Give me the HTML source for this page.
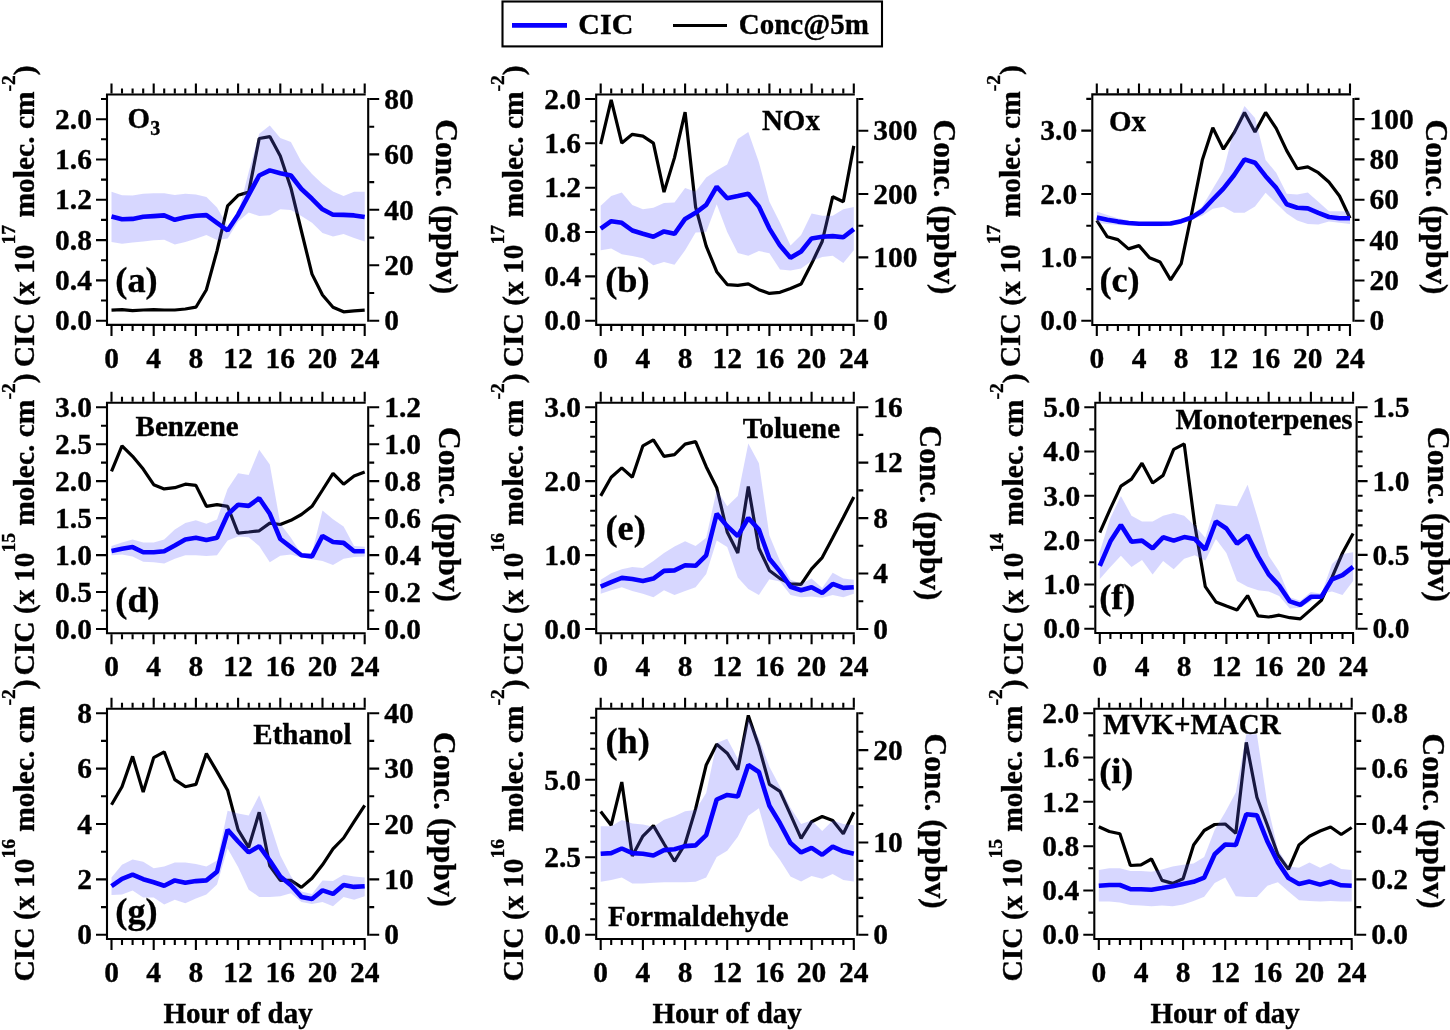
<!DOCTYPE html>
<html><head><meta charset="utf-8"><style>
html,body{margin:0;padding:0;background:#fff;width:1450px;height:1030px;overflow:hidden}
svg{display:block;will-change:transform}
text{font-family:'Liberation Serif', serif;font-weight:bold;fill:#000;stroke:#000;stroke-width:0.35px}
</style></head><body>
<svg width="1450" height="1030" viewBox="0 0 1450 1030">
<rect width="1450" height="1030" fill="#fff"/>
<polyline points="111.5,310.2 122.0,309.7 132.6,310.7 143.2,310.0 153.7,309.7 164.2,310.0 174.8,310.0 185.3,309.0 195.9,307.2 206.4,289.7 217.0,250.8 227.6,205.8 238.1,195.3 248.7,192.1 259.2,138.5 269.8,136.6 280.3,155.9 290.9,187.9 301.4,231.0 312.0,274.1 322.5,295.0 333.0,307.2 343.6,311.8 354.1,310.9 364.7,310.2" fill="none" stroke="#000" stroke-width="3.2" stroke-linejoin="bevel"/>
<polygon points="111.5,191.8 122.0,195.3 132.6,195.6 143.2,193.7 153.7,193.2 164.2,193.2 174.8,194.9 185.3,193.7 195.9,194.4 206.4,197.0 217.0,207.6 227.6,226.0 238.1,214.0 248.7,172.0 259.2,133.8 269.8,125.6 280.3,137.9 290.9,142.0 301.4,161.7 312.0,173.9 322.5,184.1 333.0,191.6 343.6,196.0 354.1,191.8 364.7,191.8 364.7,241.5 354.1,238.0 343.6,234.0 333.0,236.4 322.5,233.0 312.0,222.8 301.4,216.0 290.9,209.9 280.3,209.2 269.8,215.3 259.2,216.0 248.7,212.6 238.1,221.4 227.6,238.6 217.0,240.0 206.4,235.0 195.9,238.7 185.3,241.9 174.8,244.5 164.2,239.8 153.7,240.3 143.2,241.5 132.6,242.6 122.0,243.8 111.5,241.9" fill="#5f5fff" fill-opacity="0.25"/>
<polyline points="111.5,216.5 122.0,219.3 132.6,218.9 143.2,216.8 153.7,216.1 164.2,215.4 174.8,219.8 185.3,217.2 195.9,215.8 206.4,215.1 217.0,222.8 227.6,230.5 238.1,214.7 248.7,194.9 259.2,175.5 269.8,170.4 280.3,173.2 290.9,175.5 301.4,189.0 312.0,198.8 322.5,209.3 333.0,214.7 343.6,214.9 354.1,215.4 364.7,217.0" fill="none" stroke="#0800ff" stroke-width="4.6" stroke-linejoin="bevel"/>
<path d="M107.0 93.5 V325.9 M106.0 94.5 H365.7 M106.0 324.9 H365.7 M368.2 98.0 V321.7" stroke="#000" stroke-width="2.1" fill="none"/>
<text x="91.9" y="330.3" text-anchor="end" font-size="29.5">0.0</text>
<text x="91.9" y="290.0" text-anchor="end" font-size="29.5">0.4</text>
<text x="91.9" y="249.7" text-anchor="end" font-size="29.5">0.8</text>
<text x="91.9" y="209.4" text-anchor="end" font-size="29.5">1.2</text>
<text x="91.9" y="169.1" text-anchor="end" font-size="29.5">1.6</text>
<text x="91.9" y="128.8" text-anchor="end" font-size="29.5">2.0</text>
<text x="384.2" y="330.3" font-size="29.5">0</text>
<text x="384.2" y="274.9" font-size="29.5">20</text>
<text x="384.2" y="219.5" font-size="29.5">40</text>
<text x="384.2" y="164.1" font-size="29.5">60</text>
<text x="384.2" y="108.6" font-size="29.5">80</text>
<path d="M111.5 93.5V83.5M111.5 325.9V335.9M122.0 93.5V88.5M122.0 325.9V330.9M132.6 93.5V88.5M132.6 325.9V330.9M143.2 93.5V88.5M143.2 325.9V330.9M153.7 93.5V83.5M153.7 325.9V335.9M164.2 93.5V88.5M164.2 325.9V330.9M174.8 93.5V88.5M174.8 325.9V330.9M185.3 93.5V88.5M185.3 325.9V330.9M195.9 93.5V83.5M195.9 325.9V335.9M206.4 93.5V88.5M206.4 325.9V330.9M217.0 93.5V88.5M217.0 325.9V330.9M227.6 93.5V88.5M227.6 325.9V330.9M238.1 93.5V83.5M238.1 325.9V335.9M248.7 93.5V88.5M248.7 325.9V330.9M259.2 93.5V88.5M259.2 325.9V330.9M269.8 93.5V88.5M269.8 325.9V330.9M280.3 93.5V83.5M280.3 325.9V335.9M290.9 93.5V88.5M290.9 325.9V330.9M301.4 93.5V88.5M301.4 325.9V330.9M312.0 93.5V88.5M312.0 325.9V330.9M322.5 93.5V83.5M322.5 325.9V335.9M333.0 93.5V88.5M333.0 325.9V330.9M343.6 93.5V88.5M343.6 325.9V330.9M354.1 93.5V88.5M354.1 325.9V330.9M364.7 93.5V83.5M364.7 325.9V335.9M106.0 320.7H96.0M106.0 300.5H101.0M106.0 280.4H96.0M106.0 260.2H101.0M106.0 240.1H96.0M106.0 219.9H101.0M106.0 199.8H96.0M106.0 179.6H101.0M106.0 159.5H96.0M106.0 139.3H101.0M106.0 119.2H96.0M106.0 99.0H101.0M369.2 320.7H379.2M369.2 293.0H374.2M369.2 265.3H379.2M369.2 237.6H374.2M369.2 209.8H379.2M369.2 182.1H374.2M369.2 154.4H379.2M369.2 126.7H374.2M369.2 99.0H379.2" stroke="#000" stroke-width="2.1" fill="none"/>
<text x="111.5" y="367.7" text-anchor="middle" font-size="29.5">0</text>
<text x="153.7" y="367.7" text-anchor="middle" font-size="29.5">4</text>
<text x="195.9" y="367.7" text-anchor="middle" font-size="29.5">8</text>
<text x="238.1" y="367.7" text-anchor="middle" font-size="29.5">12</text>
<text x="280.3" y="367.7" text-anchor="middle" font-size="29.5">16</text>
<text x="322.5" y="367.7" text-anchor="middle" font-size="29.5">20</text>
<text x="364.7" y="367.7" text-anchor="middle" font-size="29.5">24</text>
<text transform="translate(34.2 367.3) rotate(-90)" font-size="29.5">CIC (x 10<tspan font-size="19.5" dy="-19.4">17</tspan><tspan dy="19.4"> molec. cm</tspan><tspan font-size="19.5" dy="-19.4">-2</tspan><tspan dy="19.4">)</tspan></text>
<text transform="translate(436.0 119.3) rotate(90)" font-size="31.5">Conc. (ppbv)</text>
<text x="115.3" y="292.1" font-size="36.3">(a)</text>
<text x="127.6" y="127.5" font-size="29.0">O<tspan font-size="20" dy="7">3</tspan></text>
<polyline points="600.7,144.1 611.2,99.8 621.8,143.1 632.3,134.3 642.9,136.1 653.4,143.1 664.0,192.1 674.5,157.6 685.1,112.1 695.6,207.0 706.2,246.1 716.7,271.7 727.2,284.6 737.8,285.3 748.3,283.9 758.9,289.7 769.4,293.4 780.0,292.3 790.5,288.5 801.1,284.1 811.6,263.6 822.2,241.5 832.7,196.7 843.3,201.8 853.8,145.9" fill="none" stroke="#000" stroke-width="3.2" stroke-linejoin="bevel"/>
<polygon points="600.7,205.8 611.2,196.0 621.8,192.5 632.3,204.9 642.9,209.3 653.4,207.7 664.0,203.0 674.5,202.5 685.1,187.9 695.6,191.8 706.2,177.4 716.7,170.4 727.2,164.6 737.8,138.9 748.3,131.9 758.9,162.2 769.4,201.8 780.0,222.8 790.5,245.6 801.1,234.9 811.6,213.5 822.2,215.8 832.7,215.8 843.3,209.3 853.8,207.0 853.8,250.3 843.3,263.1 832.7,255.7 822.2,257.1 811.6,261.0 801.1,268.5 790.5,270.6 780.0,269.4 769.4,253.3 758.9,251.0 748.3,255.7 737.8,253.1 727.2,232.1 716.7,204.2 706.2,232.1 695.6,232.6 685.1,250.3 674.5,264.8 664.0,262.0 653.4,265.2 642.9,258.2 632.3,255.9 621.8,254.3 611.2,248.4 600.7,250.3" fill="#5f5fff" fill-opacity="0.25"/>
<polyline points="600.7,228.6 611.2,221.2 621.8,222.8 632.3,230.5 642.9,233.8 653.4,236.8 664.0,231.4 674.5,233.8 685.1,218.9 695.6,212.8 706.2,204.9 716.7,186.7 727.2,198.3 737.8,196.0 748.3,193.7 758.9,206.5 769.4,228.6 780.0,245.6 790.5,257.8 801.1,251.5 811.6,238.4 822.2,236.8 832.7,236.1 843.3,237.3 853.8,229.1" fill="none" stroke="#0800ff" stroke-width="4.6" stroke-linejoin="bevel"/>
<path d="M596.2 93.5 V325.9 M595.2 94.5 H854.8 M595.2 324.9 H854.8 M857.3 98.0 V321.7" stroke="#000" stroke-width="2.1" fill="none"/>
<text x="581.1" y="330.3" text-anchor="end" font-size="29.5">0.0</text>
<text x="581.1" y="286.0" text-anchor="end" font-size="29.5">0.4</text>
<text x="581.1" y="241.7" text-anchor="end" font-size="29.5">0.8</text>
<text x="581.1" y="197.3" text-anchor="end" font-size="29.5">1.2</text>
<text x="581.1" y="153.0" text-anchor="end" font-size="29.5">1.6</text>
<text x="581.1" y="108.6" text-anchor="end" font-size="29.5">2.0</text>
<text x="873.3" y="330.3" font-size="29.5">0</text>
<text x="873.3" y="267.0" font-size="29.5">100</text>
<text x="873.3" y="203.7" font-size="29.5">200</text>
<text x="873.3" y="140.3" font-size="29.5">300</text>
<path d="M600.7 93.5V83.5M600.7 325.9V335.9M611.2 93.5V88.5M611.2 325.9V330.9M621.8 93.5V88.5M621.8 325.9V330.9M632.3 93.5V88.5M632.3 325.9V330.9M642.9 93.5V83.5M642.9 325.9V335.9M653.4 93.5V88.5M653.4 325.9V330.9M664.0 93.5V88.5M664.0 325.9V330.9M674.5 93.5V88.5M674.5 325.9V330.9M685.1 93.5V83.5M685.1 325.9V335.9M695.6 93.5V88.5M695.6 325.9V330.9M706.2 93.5V88.5M706.2 325.9V330.9M716.7 93.5V88.5M716.7 325.9V330.9M727.2 93.5V83.5M727.2 325.9V335.9M737.8 93.5V88.5M737.8 325.9V330.9M748.3 93.5V88.5M748.3 325.9V330.9M758.9 93.5V88.5M758.9 325.9V330.9M769.4 93.5V83.5M769.4 325.9V335.9M780.0 93.5V88.5M780.0 325.9V330.9M790.5 93.5V88.5M790.5 325.9V330.9M801.1 93.5V88.5M801.1 325.9V330.9M811.6 93.5V83.5M811.6 325.9V335.9M822.2 93.5V88.5M822.2 325.9V330.9M832.7 93.5V88.5M832.7 325.9V330.9M843.3 93.5V88.5M843.3 325.9V330.9M853.8 93.5V83.5M853.8 325.9V335.9M595.2 320.7H585.2M595.2 298.5H590.2M595.2 276.4H585.2M595.2 254.2H590.2M595.2 232.0H585.2M595.2 209.8H590.2M595.2 187.7H585.2M595.2 165.5H590.2M595.2 143.3H585.2M595.2 121.2H590.2M595.2 99.0H585.2M858.3 320.7H868.3M858.3 289.0H863.3M858.3 257.4H868.3M858.3 225.7H863.3M858.3 194.0H868.3M858.3 162.3H863.3M858.3 130.7H868.3M858.3 99.0H863.3" stroke="#000" stroke-width="2.1" fill="none"/>
<text x="600.7" y="367.7" text-anchor="middle" font-size="29.5">0</text>
<text x="642.9" y="367.7" text-anchor="middle" font-size="29.5">4</text>
<text x="685.1" y="367.7" text-anchor="middle" font-size="29.5">8</text>
<text x="727.2" y="367.7" text-anchor="middle" font-size="29.5">12</text>
<text x="769.4" y="367.7" text-anchor="middle" font-size="29.5">16</text>
<text x="811.6" y="367.7" text-anchor="middle" font-size="29.5">20</text>
<text x="853.8" y="367.7" text-anchor="middle" font-size="29.5">24</text>
<text transform="translate(523.4 367.3) rotate(-90)" font-size="29.5">CIC (x 10<tspan font-size="19.5" dy="-19.4">17</tspan><tspan dy="19.4"> molec. cm</tspan><tspan font-size="19.5" dy="-19.4">-2</tspan><tspan dy="19.4">)</tspan></text>
<text transform="translate(934.2 119.5) rotate(90)" font-size="31.5">Conc. (ppbv)</text>
<text x="605.2" y="292.4" font-size="36.3">(b)</text>
<text x="761.9" y="130.2" font-size="29.0">NOx</text>
<polyline points="1096.8,220.5 1107.3,236.8 1117.9,239.6 1128.5,248.9 1139.0,245.6 1149.5,257.8 1160.1,262.0 1170.6,279.9 1181.2,263.6 1191.8,212.8 1202.3,160.1 1212.8,127.7 1223.4,149.2 1234.0,132.9 1244.5,112.4 1255.0,131.9 1265.6,112.4 1276.2,128.4 1286.7,150.6 1297.2,168.8 1307.8,166.9 1318.3,172.7 1328.9,182.0 1339.5,196.0 1350.0,218.2" fill="none" stroke="#000" stroke-width="3.2" stroke-linejoin="bevel"/>
<polygon points="1096.8,211.6 1107.3,215.1 1117.9,218.2 1128.5,220.5 1139.0,222.1 1149.5,222.1 1160.1,222.1 1170.6,221.6 1181.2,219.3 1191.8,215.1 1202.3,206.5 1212.8,188.8 1223.4,170.9 1234.0,129.6 1244.5,106.1 1255.0,118.0 1265.6,159.9 1276.2,172.7 1286.7,193.7 1297.2,194.4 1307.8,192.5 1318.3,201.8 1328.9,211.2 1339.5,211.2 1350.0,211.6 1350.0,224.0 1339.5,222.8 1328.9,221.6 1318.3,224.4 1307.8,224.0 1297.2,220.5 1286.7,213.5 1276.2,203.2 1265.6,192.8 1255.0,206.5 1244.5,212.8 1234.0,212.8 1223.4,206.7 1212.8,208.8 1202.3,215.8 1191.8,219.3 1181.2,224.0 1170.6,225.8 1160.1,226.3 1149.5,226.3 1139.0,225.8 1128.5,225.6 1117.9,225.1 1107.3,224.0 1096.8,222.8" fill="#5f5fff" fill-opacity="0.25"/>
<polyline points="1096.8,217.5 1107.3,219.8 1117.9,221.6 1128.5,223.0 1139.0,223.7 1149.5,223.7 1160.1,223.7 1170.6,223.5 1181.2,221.2 1191.8,217.5 1202.3,210.7 1212.8,199.5 1223.4,188.6 1234.0,175.3 1244.5,159.4 1255.0,162.7 1265.6,176.2 1276.2,187.9 1286.7,204.2 1297.2,207.7 1307.8,208.4 1318.3,212.8 1328.9,217.0 1339.5,218.2 1350.0,218.2" fill="none" stroke="#0800ff" stroke-width="4.6" stroke-linejoin="bevel"/>
<path d="M1092.3 93.4 V326.0 M1091.3 94.4 H1351.0 M1091.3 325.0 H1351.0 M1353.5 97.9 V321.8" stroke="#000" stroke-width="2.1" fill="none"/>
<text x="1077.2" y="330.4" text-anchor="end" font-size="29.5">0.0</text>
<text x="1077.2" y="267.0" text-anchor="end" font-size="29.5">1.0</text>
<text x="1077.2" y="203.6" text-anchor="end" font-size="29.5">2.0</text>
<text x="1077.2" y="140.2" text-anchor="end" font-size="29.5">3.0</text>
<text x="1369.5" y="330.4" font-size="29.5">0</text>
<text x="1369.5" y="290.1" font-size="29.5">20</text>
<text x="1369.5" y="249.7" font-size="29.5">40</text>
<text x="1369.5" y="209.4" font-size="29.5">60</text>
<text x="1369.5" y="169.1" font-size="29.5">80</text>
<text x="1369.5" y="128.7" font-size="29.5">100</text>
<path d="M1096.8 93.4V83.4M1096.8 326.0V336.0M1107.3 93.4V88.4M1107.3 326.0V331.0M1117.9 93.4V88.4M1117.9 326.0V331.0M1128.5 93.4V88.4M1128.5 326.0V331.0M1139.0 93.4V83.4M1139.0 326.0V336.0M1149.5 93.4V88.4M1149.5 326.0V331.0M1160.1 93.4V88.4M1160.1 326.0V331.0M1170.6 93.4V88.4M1170.6 326.0V331.0M1181.2 93.4V83.4M1181.2 326.0V336.0M1191.8 93.4V88.4M1191.8 326.0V331.0M1202.3 93.4V88.4M1202.3 326.0V331.0M1212.8 93.4V88.4M1212.8 326.0V331.0M1223.4 93.4V83.4M1223.4 326.0V336.0M1234.0 93.4V88.4M1234.0 326.0V331.0M1244.5 93.4V88.4M1244.5 326.0V331.0M1255.0 93.4V88.4M1255.0 326.0V331.0M1265.6 93.4V83.4M1265.6 326.0V336.0M1276.2 93.4V88.4M1276.2 326.0V331.0M1286.7 93.4V88.4M1286.7 326.0V331.0M1297.2 93.4V88.4M1297.2 326.0V331.0M1307.8 93.4V83.4M1307.8 326.0V336.0M1318.3 93.4V88.4M1318.3 326.0V331.0M1328.9 93.4V88.4M1328.9 326.0V331.0M1339.5 93.4V88.4M1339.5 326.0V331.0M1350.0 93.4V83.4M1350.0 326.0V336.0M1091.3 320.8H1081.3M1091.3 289.1H1086.3M1091.3 257.4H1081.3M1091.3 225.7H1086.3M1091.3 194.0H1081.3M1091.3 162.3H1086.3M1091.3 130.6H1081.3M1091.3 98.9H1086.3M1354.5 320.8H1364.5M1354.5 300.6H1359.5M1354.5 280.5H1364.5M1354.5 260.3H1359.5M1354.5 240.1H1364.5M1354.5 219.9H1359.5M1354.5 199.8H1364.5M1354.5 179.6H1359.5M1354.5 159.4H1364.5M1354.5 139.2H1359.5M1354.5 119.1H1364.5M1354.5 98.9H1359.5" stroke="#000" stroke-width="2.1" fill="none"/>
<text x="1096.8" y="367.8" text-anchor="middle" font-size="29.5">0</text>
<text x="1139.0" y="367.8" text-anchor="middle" font-size="29.5">4</text>
<text x="1181.2" y="367.8" text-anchor="middle" font-size="29.5">8</text>
<text x="1223.4" y="367.8" text-anchor="middle" font-size="29.5">12</text>
<text x="1265.6" y="367.8" text-anchor="middle" font-size="29.5">16</text>
<text x="1307.8" y="367.8" text-anchor="middle" font-size="29.5">20</text>
<text x="1350.0" y="367.8" text-anchor="middle" font-size="29.5">24</text>
<text transform="translate(1019.5 367.2) rotate(-90)" font-size="29.5">CIC (x 10<tspan font-size="19.5" dy="-19.4">17</tspan><tspan dy="19.4"> molec. cm</tspan><tspan font-size="19.5" dy="-19.4">-2</tspan><tspan dy="19.4">)</tspan></text>
<text transform="translate(1425.6 119.5) rotate(90)" font-size="31.5">Conc. (ppbv)</text>
<text x="1099.4" y="292.0" font-size="36.3">(c)</text>
<text x="1109.0" y="131.4" font-size="29.0">Ox</text>
<polyline points="111.5,471.4 122.0,445.8 132.6,456.3 143.2,469.1 153.7,484.7 164.2,488.9 174.8,487.7 185.3,484.2 195.9,485.4 206.4,506.3 217.0,504.7 227.6,506.3 238.1,533.1 248.7,532.0 259.2,530.8 269.8,523.1 280.3,524.5 290.9,520.3 301.4,514.5 312.0,506.3 322.5,490.0 333.0,473.3 343.6,484.2 354.1,476.1 364.7,472.1" fill="none" stroke="#000" stroke-width="3.2" stroke-linejoin="bevel"/>
<polygon points="111.5,546.0 122.0,542.5 132.6,539.4 143.2,542.5 153.7,542.5 164.2,539.4 174.8,529.6 185.3,523.1 195.9,520.3 206.4,523.8 217.0,519.6 227.6,488.9 238.1,473.3 248.7,474.9 259.2,449.7 269.8,464.4 280.3,523.8 290.9,537.8 301.4,554.1 312.0,553.0 322.5,510.5 333.0,519.2 343.6,526.6 354.1,546.0 364.7,546.7 364.7,556.4 354.1,557.1 343.6,558.8 333.0,565.1 322.5,561.1 312.0,559.2 301.4,557.6 290.9,554.6 280.3,555.7 269.8,562.3 259.2,546.0 248.7,537.3 238.1,536.6 227.6,540.6 217.0,555.3 206.4,556.0 195.9,555.3 185.3,555.3 174.8,558.8 164.2,563.4 153.7,562.3 143.2,561.8 132.6,556.4 122.0,554.6 111.5,555.3" fill="#5f5fff" fill-opacity="0.25"/>
<polyline points="111.5,551.1 122.0,548.8 132.6,547.1 143.2,552.3 153.7,552.3 164.2,551.3 174.8,545.5 185.3,539.4 195.9,537.8 206.4,540.1 217.0,537.8 227.6,514.5 238.1,504.7 248.7,505.9 259.2,498.2 269.8,513.8 280.3,539.0 290.9,547.1 301.4,555.3 312.0,556.4 322.5,535.9 333.0,542.0 343.6,542.9 354.1,551.3 364.7,551.3" fill="none" stroke="#0800ff" stroke-width="4.6" stroke-linejoin="bevel"/>
<path d="M107.0 401.7 V634.2 M106.0 402.7 H365.7 M106.0 633.2 H365.7 M368.2 406.2 V630.0" stroke="#000" stroke-width="2.1" fill="none"/>
<text x="91.9" y="638.6" text-anchor="end" font-size="29.5">0.0</text>
<text x="91.9" y="601.7" text-anchor="end" font-size="29.5">0.5</text>
<text x="91.9" y="564.7" text-anchor="end" font-size="29.5">1.0</text>
<text x="91.9" y="527.7" text-anchor="end" font-size="29.5">1.5</text>
<text x="91.9" y="490.8" text-anchor="end" font-size="29.5">2.0</text>
<text x="91.9" y="453.8" text-anchor="end" font-size="29.5">2.5</text>
<text x="91.9" y="416.8" text-anchor="end" font-size="29.5">3.0</text>
<text x="384.2" y="638.6" font-size="29.5">0.0</text>
<text x="384.2" y="601.7" font-size="29.5">0.2</text>
<text x="384.2" y="564.7" font-size="29.5">0.4</text>
<text x="384.2" y="527.7" font-size="29.5">0.6</text>
<text x="384.2" y="490.8" font-size="29.5">0.8</text>
<text x="384.2" y="453.8" font-size="29.5">1.0</text>
<text x="384.2" y="416.8" font-size="29.5">1.2</text>
<path d="M111.5 401.7V391.7M111.5 634.2V644.2M122.0 401.7V396.7M122.0 634.2V639.2M132.6 401.7V396.7M132.6 634.2V639.2M143.2 401.7V396.7M143.2 634.2V639.2M153.7 401.7V391.7M153.7 634.2V644.2M164.2 401.7V396.7M164.2 634.2V639.2M174.8 401.7V396.7M174.8 634.2V639.2M185.3 401.7V396.7M185.3 634.2V639.2M195.9 401.7V391.7M195.9 634.2V644.2M206.4 401.7V396.7M206.4 634.2V639.2M217.0 401.7V396.7M217.0 634.2V639.2M227.6 401.7V396.7M227.6 634.2V639.2M238.1 401.7V391.7M238.1 634.2V644.2M248.7 401.7V396.7M248.7 634.2V639.2M259.2 401.7V396.7M259.2 634.2V639.2M269.8 401.7V396.7M269.8 634.2V639.2M280.3 401.7V391.7M280.3 634.2V644.2M290.9 401.7V396.7M290.9 634.2V639.2M301.4 401.7V396.7M301.4 634.2V639.2M312.0 401.7V396.7M312.0 634.2V639.2M322.5 401.7V391.7M322.5 634.2V644.2M333.0 401.7V396.7M333.0 634.2V639.2M343.6 401.7V396.7M343.6 634.2V639.2M354.1 401.7V396.7M354.1 634.2V639.2M364.7 401.7V391.7M364.7 634.2V644.2M106.0 629.0H96.0M106.0 610.5H101.0M106.0 592.0H96.0M106.0 573.5H101.0M106.0 555.1H96.0M106.0 536.6H101.0M106.0 518.1H96.0M106.0 499.6H101.0M106.0 481.1H96.0M106.0 462.6H101.0M106.0 444.2H96.0M106.0 425.7H101.0M106.0 407.2H96.0M369.2 629.0H379.2M369.2 610.5H374.2M369.2 592.0H379.2M369.2 573.5H374.2M369.2 555.1H379.2M369.2 536.6H374.2M369.2 518.1H379.2M369.2 499.6H374.2M369.2 481.1H379.2M369.2 462.6H374.2M369.2 444.2H379.2M369.2 425.7H374.2M369.2 407.2H379.2" stroke="#000" stroke-width="2.1" fill="none"/>
<text x="111.5" y="676.0" text-anchor="middle" font-size="29.5">0</text>
<text x="153.7" y="676.0" text-anchor="middle" font-size="29.5">4</text>
<text x="195.9" y="676.0" text-anchor="middle" font-size="29.5">8</text>
<text x="238.1" y="676.0" text-anchor="middle" font-size="29.5">12</text>
<text x="280.3" y="676.0" text-anchor="middle" font-size="29.5">16</text>
<text x="322.5" y="676.0" text-anchor="middle" font-size="29.5">20</text>
<text x="364.7" y="676.0" text-anchor="middle" font-size="29.5">24</text>
<text transform="translate(34.2 675.5) rotate(-90)" font-size="29.5">CIC (x 10<tspan font-size="19.5" dy="-19.4">15</tspan><tspan dy="19.4"> molec. cm</tspan><tspan font-size="19.5" dy="-19.4">-2</tspan><tspan dy="19.4">)</tspan></text>
<text transform="translate(438.6 426.9) rotate(90)" font-size="31.5">Conc. (ppbv)</text>
<text x="115.3" y="611.6" font-size="36.3">(d)</text>
<text x="135.6" y="436.3" font-size="29.0">Benzene</text>
<polyline points="600.7,495.9 611.2,477.2 621.8,467.9 632.3,477.2 642.9,445.8 653.4,439.9 664.0,456.3 674.5,454.6 685.1,444.1 695.6,441.6 706.2,466.7 716.7,487.7 727.2,532.0 737.8,553.0 748.3,486.5 758.9,548.3 769.4,570.4 780.0,578.6 790.5,583.9 801.1,584.4 811.6,568.8 822.2,557.6 832.7,537.8 843.3,517.5 853.8,497.0" fill="none" stroke="#000" stroke-width="3.2" stroke-linejoin="bevel"/>
<polygon points="600.7,579.7 611.2,573.2 621.8,569.3 632.3,566.9 642.9,568.1 653.4,561.1 664.0,553.0 674.5,546.4 685.1,541.3 695.6,546.0 706.2,537.8 716.7,490.0 727.2,506.3 737.8,495.9 748.3,443.4 758.9,463.2 769.4,535.5 780.0,561.1 790.5,579.7 801.1,583.7 811.6,578.6 822.2,587.9 832.7,572.8 843.3,578.6 853.8,579.7 853.8,593.7 843.3,597.2 832.7,594.9 822.2,597.7 811.6,596.5 801.1,597.2 790.5,594.9 780.0,581.6 769.4,579.3 758.9,594.9 748.3,589.1 737.8,577.4 727.2,547.1 716.7,540.6 706.2,573.9 695.6,587.2 685.1,590.9 674.5,594.9 664.0,590.2 653.4,597.2 642.9,593.7 632.3,590.9 621.8,587.2 611.2,590.2 600.7,593.7" fill="#5f5fff" fill-opacity="0.25"/>
<polyline points="600.7,586.7 611.2,582.1 621.8,577.9 632.3,579.0 642.9,580.9 653.4,578.6 664.0,570.9 674.5,570.4 685.1,565.3 695.6,565.8 706.2,555.3 716.7,513.8 727.2,526.2 737.8,536.2 748.3,518.0 758.9,529.6 769.4,558.8 780.0,571.6 790.5,586.7 801.1,590.2 811.6,587.2 822.2,593.0 832.7,583.9 843.3,587.9 853.8,587.2" fill="none" stroke="#0800ff" stroke-width="4.6" stroke-linejoin="bevel"/>
<path d="M596.2 401.7 V634.2 M595.2 402.7 H854.8 M595.2 633.2 H854.8 M857.3 406.2 V630.0" stroke="#000" stroke-width="2.1" fill="none"/>
<text x="581.1" y="638.6" text-anchor="end" font-size="29.5">0.0</text>
<text x="581.1" y="564.7" text-anchor="end" font-size="29.5">1.0</text>
<text x="581.1" y="490.8" text-anchor="end" font-size="29.5">2.0</text>
<text x="581.1" y="416.8" text-anchor="end" font-size="29.5">3.0</text>
<text x="873.3" y="638.6" font-size="29.5">0</text>
<text x="873.3" y="583.2" font-size="29.5">4</text>
<text x="873.3" y="527.7" font-size="29.5">8</text>
<text x="873.3" y="472.3" font-size="29.5">12</text>
<text x="873.3" y="416.8" font-size="29.5">16</text>
<path d="M600.7 401.7V391.7M600.7 634.2V644.2M611.2 401.7V396.7M611.2 634.2V639.2M621.8 401.7V396.7M621.8 634.2V639.2M632.3 401.7V396.7M632.3 634.2V639.2M642.9 401.7V391.7M642.9 634.2V644.2M653.4 401.7V396.7M653.4 634.2V639.2M664.0 401.7V396.7M664.0 634.2V639.2M674.5 401.7V396.7M674.5 634.2V639.2M685.1 401.7V391.7M685.1 634.2V644.2M695.6 401.7V396.7M695.6 634.2V639.2M706.2 401.7V396.7M706.2 634.2V639.2M716.7 401.7V396.7M716.7 634.2V639.2M727.2 401.7V391.7M727.2 634.2V644.2M737.8 401.7V396.7M737.8 634.2V639.2M748.3 401.7V396.7M748.3 634.2V639.2M758.9 401.7V396.7M758.9 634.2V639.2M769.4 401.7V391.7M769.4 634.2V644.2M780.0 401.7V396.7M780.0 634.2V639.2M790.5 401.7V396.7M790.5 634.2V639.2M801.1 401.7V396.7M801.1 634.2V639.2M811.6 401.7V391.7M811.6 634.2V644.2M822.2 401.7V396.7M822.2 634.2V639.2M832.7 401.7V396.7M832.7 634.2V639.2M843.3 401.7V396.7M843.3 634.2V639.2M853.8 401.7V391.7M853.8 634.2V644.2M595.2 629.0H585.2M595.2 614.2H590.2M595.2 599.4H590.2M595.2 584.6H590.2M595.2 569.9H590.2M595.2 555.1H585.2M595.2 540.3H590.2M595.2 525.5H590.2M595.2 510.7H590.2M595.2 495.9H590.2M595.2 481.1H585.2M595.2 466.3H590.2M595.2 451.6H590.2M595.2 436.8H590.2M595.2 422.0H590.2M595.2 407.2H585.2M858.3 629.0H868.3M858.3 601.3H863.3M858.3 573.5H868.3M858.3 545.8H863.3M858.3 518.1H868.3M858.3 490.4H863.3M858.3 462.6H868.3M858.3 434.9H863.3M858.3 407.2H868.3" stroke="#000" stroke-width="2.1" fill="none"/>
<text x="600.7" y="676.0" text-anchor="middle" font-size="29.5">0</text>
<text x="642.9" y="676.0" text-anchor="middle" font-size="29.5">4</text>
<text x="685.1" y="676.0" text-anchor="middle" font-size="29.5">8</text>
<text x="727.2" y="676.0" text-anchor="middle" font-size="29.5">12</text>
<text x="769.4" y="676.0" text-anchor="middle" font-size="29.5">16</text>
<text x="811.6" y="676.0" text-anchor="middle" font-size="29.5">20</text>
<text x="853.8" y="676.0" text-anchor="middle" font-size="29.5">24</text>
<text transform="translate(523.4 675.5) rotate(-90)" font-size="29.5">CIC (x 10<tspan font-size="19.5" dy="-19.4">16</tspan><tspan dy="19.4"> molec. cm</tspan><tspan font-size="19.5" dy="-19.4">-2</tspan><tspan dy="19.4">)</tspan></text>
<text transform="translate(919.6 425.4) rotate(90)" font-size="31.5">Conc. (ppbv)</text>
<text x="605.5" y="540.2" font-size="36.3">(e)</text>
<text x="742.8" y="437.5" font-size="29.0">Toluene</text>
<polyline points="1099.8,532.7 1110.4,508.7 1120.9,486.1 1131.5,479.1 1142.0,463.2 1152.6,483.0 1163.1,475.4 1173.7,449.3 1184.2,443.9 1194.8,525.0 1205.3,586.7 1215.9,601.9 1226.4,606.1 1237.0,610.0 1247.6,595.6 1258.1,615.9 1268.7,617.0 1279.2,615.2 1289.8,617.7 1300.3,618.9 1310.9,609.6 1321.4,600.3 1332.0,577.4 1342.5,553.0 1353.1,533.6" fill="none" stroke="#000" stroke-width="3.2" stroke-linejoin="bevel"/>
<polygon points="1099.8,551.8 1110.4,518.0 1120.9,495.9 1131.5,515.7 1142.0,521.5 1152.6,521.5 1163.1,515.7 1173.7,512.9 1184.2,515.7 1194.8,525.7 1205.3,537.8 1215.9,504.0 1226.4,505.2 1237.0,506.3 1247.6,484.7 1258.1,519.2 1268.7,555.7 1279.2,571.6 1289.8,597.2 1300.3,600.7 1310.9,592.1 1321.4,593.7 1332.0,563.9 1342.5,554.1 1353.1,552.3 1353.1,580.9 1342.5,594.9 1332.0,591.4 1321.4,593.7 1310.9,601.2 1300.3,607.7 1289.8,608.4 1279.2,596.1 1268.7,591.4 1258.1,590.2 1247.6,586.7 1237.0,580.9 1226.4,553.0 1215.9,539.0 1205.3,560.4 1194.8,555.3 1184.2,558.8 1173.7,569.3 1163.1,561.1 1152.6,574.4 1142.0,559.9 1131.5,566.9 1120.9,555.7 1110.4,566.9 1099.8,579.0" fill="#5f5fff" fill-opacity="0.25"/>
<polyline points="1099.8,565.8 1110.4,541.3 1120.9,525.0 1131.5,541.8 1142.0,540.6 1152.6,548.3 1163.1,537.3 1173.7,540.6 1184.2,537.1 1194.8,539.0 1205.3,549.5 1215.9,521.5 1226.4,528.5 1237.0,543.6 1247.6,535.5 1258.1,556.4 1268.7,574.4 1279.2,585.6 1289.8,601.4 1300.3,604.9 1310.9,596.8 1321.4,596.8 1332.0,579.3 1342.5,575.1 1353.1,566.9" fill="none" stroke="#0800ff" stroke-width="4.6" stroke-linejoin="bevel"/>
<path d="M1095.3 401.7 V634.0 M1094.3 402.7 H1354.1 M1094.3 633.0 H1354.1 M1356.6 406.2 V629.8" stroke="#000" stroke-width="2.1" fill="none"/>
<text x="1080.2" y="638.4" text-anchor="end" font-size="29.5">0.0</text>
<text x="1080.2" y="594.1" text-anchor="end" font-size="29.5">1.0</text>
<text x="1080.2" y="549.8" text-anchor="end" font-size="29.5">2.0</text>
<text x="1080.2" y="505.5" text-anchor="end" font-size="29.5">3.0</text>
<text x="1080.2" y="461.2" text-anchor="end" font-size="29.5">4.0</text>
<text x="1080.2" y="416.8" text-anchor="end" font-size="29.5">5.0</text>
<text x="1372.6" y="638.4" font-size="29.5">0.0</text>
<text x="1372.6" y="564.6" font-size="29.5">0.5</text>
<text x="1372.6" y="490.7" font-size="29.5">1.0</text>
<text x="1372.6" y="416.8" font-size="29.5">1.5</text>
<path d="M1099.8 401.7V391.7M1099.8 634.0V644.0M1110.4 401.7V396.7M1110.4 634.0V639.0M1120.9 401.7V396.7M1120.9 634.0V639.0M1131.5 401.7V396.7M1131.5 634.0V639.0M1142.0 401.7V391.7M1142.0 634.0V644.0M1152.6 401.7V396.7M1152.6 634.0V639.0M1163.1 401.7V396.7M1163.1 634.0V639.0M1173.7 401.7V396.7M1173.7 634.0V639.0M1184.2 401.7V391.7M1184.2 634.0V644.0M1194.8 401.7V396.7M1194.8 634.0V639.0M1205.3 401.7V396.7M1205.3 634.0V639.0M1215.9 401.7V396.7M1215.9 634.0V639.0M1226.4 401.7V391.7M1226.4 634.0V644.0M1237.0 401.7V396.7M1237.0 634.0V639.0M1247.6 401.7V396.7M1247.6 634.0V639.0M1258.1 401.7V396.7M1258.1 634.0V639.0M1268.7 401.7V391.7M1268.7 634.0V644.0M1279.2 401.7V396.7M1279.2 634.0V639.0M1289.8 401.7V396.7M1289.8 634.0V639.0M1300.3 401.7V396.7M1300.3 634.0V639.0M1310.9 401.7V391.7M1310.9 634.0V644.0M1321.4 401.7V396.7M1321.4 634.0V639.0M1332.0 401.7V396.7M1332.0 634.0V639.0M1342.5 401.7V396.7M1342.5 634.0V639.0M1353.1 401.7V391.7M1353.1 634.0V644.0M1094.3 628.8H1084.3M1094.3 606.6H1089.3M1094.3 584.5H1084.3M1094.3 562.3H1089.3M1094.3 540.2H1084.3M1094.3 518.0H1089.3M1094.3 495.8H1084.3M1094.3 473.7H1089.3M1094.3 451.5H1084.3M1094.3 429.4H1089.3M1094.3 407.2H1084.3M1357.6 628.8H1367.6M1357.6 614.0H1362.6M1357.6 599.3H1362.6M1357.6 584.5H1362.6M1357.6 569.7H1362.6M1357.6 554.9H1367.6M1357.6 540.2H1362.6M1357.6 525.4H1362.6M1357.6 510.6H1362.6M1357.6 495.8H1362.6M1357.6 481.1H1367.6M1357.6 466.3H1362.6M1357.6 451.5H1362.6M1357.6 436.7H1362.6M1357.6 422.0H1362.6M1357.6 407.2H1367.6" stroke="#000" stroke-width="2.1" fill="none"/>
<text x="1099.8" y="675.8" text-anchor="middle" font-size="29.5">0</text>
<text x="1142.0" y="675.8" text-anchor="middle" font-size="29.5">4</text>
<text x="1184.2" y="675.8" text-anchor="middle" font-size="29.5">8</text>
<text x="1226.4" y="675.8" text-anchor="middle" font-size="29.5">12</text>
<text x="1268.7" y="675.8" text-anchor="middle" font-size="29.5">16</text>
<text x="1310.9" y="675.8" text-anchor="middle" font-size="29.5">20</text>
<text x="1353.1" y="675.8" text-anchor="middle" font-size="29.5">24</text>
<text transform="translate(1022.5 675.5) rotate(-90)" font-size="29.5">CIC (x 10<tspan font-size="19.5" dy="-19.4">14</tspan><tspan dy="19.4"> molec. cm</tspan><tspan font-size="19.5" dy="-19.4">-2</tspan><tspan dy="19.4">)</tspan></text>
<text transform="translate(1428.0 426.9) rotate(90)" font-size="31.5">Conc. (ppbv)</text>
<text x="1099.2" y="609.3" font-size="36.3">(f)</text>
<text x="1175.4" y="428.9" font-size="29.0">Monoterpenes</text>
<polyline points="111.5,804.7 122.0,786.7 132.6,756.4 143.2,792.1 153.7,757.6 164.2,751.8 174.8,779.7 185.3,786.7 195.9,784.4 206.4,753.6 217.0,771.6 227.6,790.2 238.1,829.8 248.7,847.3 259.2,812.3 269.8,865.9 280.3,880.4 290.9,880.4 301.4,887.4 312.0,878.3 322.5,864.8 333.0,848.9 343.6,838.0 354.1,821.7 364.7,805.4" fill="none" stroke="#000" stroke-width="3.2" stroke-linejoin="bevel"/>
<polygon points="111.5,877.6 122.0,864.8 132.6,859.6 143.2,861.7 153.7,868.3 164.2,866.4 174.8,862.4 185.3,862.4 195.9,864.1 206.4,866.4 217.0,860.6 227.6,810.7 238.1,813.5 248.7,815.4 259.2,795.3 269.8,822.8 280.3,855.5 290.9,876.0 301.4,891.6 312.0,893.9 322.5,880.4 333.0,881.1 343.6,874.8 354.1,876.4 364.7,877.6 364.7,896.2 354.1,899.7 343.6,896.9 333.0,906.3 322.5,902.1 312.0,903.9 301.4,902.1 290.9,893.2 280.3,896.2 269.8,896.9 259.2,896.9 248.7,889.7 238.1,867.1 227.6,848.5 217.0,884.6 206.4,894.6 195.9,898.6 185.3,903.2 174.8,899.7 164.2,904.4 153.7,897.4 143.2,897.4 132.6,890.4 122.0,894.6 111.5,895.1" fill="#5f5fff" fill-opacity="0.25"/>
<polyline points="111.5,886.2 122.0,878.8 132.6,874.6 143.2,879.2 153.7,882.3 164.2,885.7 174.8,880.4 185.3,882.7 195.9,881.1 206.4,880.4 217.0,871.8 227.6,829.8 238.1,841.5 248.7,852.4 259.2,846.1 269.8,860.6 280.3,876.4 290.9,885.3 301.4,896.9 312.0,899.0 322.5,890.4 333.0,893.9 343.6,885.0 354.1,886.9 364.7,886.2" fill="none" stroke="#0800ff" stroke-width="4.6" stroke-linejoin="bevel"/>
<path d="M107.0 707.7 V940.0 M106.0 708.7 H365.7 M106.0 939.0 H365.7 M368.2 712.2 V935.8" stroke="#000" stroke-width="2.1" fill="none"/>
<text x="91.9" y="944.4" text-anchor="end" font-size="29.5">0</text>
<text x="91.9" y="889.0" text-anchor="end" font-size="29.5">2</text>
<text x="91.9" y="833.6" text-anchor="end" font-size="29.5">4</text>
<text x="91.9" y="778.2" text-anchor="end" font-size="29.5">6</text>
<text x="91.9" y="722.8" text-anchor="end" font-size="29.5">8</text>
<text x="384.2" y="944.4" font-size="29.5">0</text>
<text x="384.2" y="889.0" font-size="29.5">10</text>
<text x="384.2" y="833.6" font-size="29.5">20</text>
<text x="384.2" y="778.2" font-size="29.5">30</text>
<text x="384.2" y="722.8" font-size="29.5">40</text>
<path d="M111.5 707.7V697.7M111.5 940.0V950.0M122.0 707.7V702.7M122.0 940.0V945.0M132.6 707.7V702.7M132.6 940.0V945.0M143.2 707.7V702.7M143.2 940.0V945.0M153.7 707.7V697.7M153.7 940.0V950.0M164.2 707.7V702.7M164.2 940.0V945.0M174.8 707.7V702.7M174.8 940.0V945.0M185.3 707.7V702.7M185.3 940.0V945.0M195.9 707.7V697.7M195.9 940.0V950.0M206.4 707.7V702.7M206.4 940.0V945.0M217.0 707.7V702.7M217.0 940.0V945.0M227.6 707.7V702.7M227.6 940.0V945.0M238.1 707.7V697.7M238.1 940.0V950.0M248.7 707.7V702.7M248.7 940.0V945.0M259.2 707.7V702.7M259.2 940.0V945.0M269.8 707.7V702.7M269.8 940.0V945.0M280.3 707.7V697.7M280.3 940.0V950.0M290.9 707.7V702.7M290.9 940.0V945.0M301.4 707.7V702.7M301.4 940.0V945.0M312.0 707.7V702.7M312.0 940.0V945.0M322.5 707.7V697.7M322.5 940.0V950.0M333.0 707.7V702.7M333.0 940.0V945.0M343.6 707.7V702.7M343.6 940.0V945.0M354.1 707.7V702.7M354.1 940.0V945.0M364.7 707.7V697.7M364.7 940.0V950.0M106.0 934.8H96.0M106.0 907.1H101.0M106.0 879.4H96.0M106.0 851.7H101.0M106.0 824.0H96.0M106.0 796.3H101.0M106.0 768.6H96.0M106.0 740.9H101.0M106.0 713.2H96.0M369.2 934.8H379.2M369.2 907.1H374.2M369.2 879.4H379.2M369.2 851.7H374.2M369.2 824.0H379.2M369.2 796.3H374.2M369.2 768.6H379.2M369.2 740.9H374.2M369.2 713.2H379.2" stroke="#000" stroke-width="2.1" fill="none"/>
<text x="111.5" y="981.8" text-anchor="middle" font-size="29.5">0</text>
<text x="153.7" y="981.8" text-anchor="middle" font-size="29.5">4</text>
<text x="195.9" y="981.8" text-anchor="middle" font-size="29.5">8</text>
<text x="238.1" y="981.8" text-anchor="middle" font-size="29.5">12</text>
<text x="280.3" y="981.8" text-anchor="middle" font-size="29.5">16</text>
<text x="322.5" y="981.8" text-anchor="middle" font-size="29.5">20</text>
<text x="364.7" y="981.8" text-anchor="middle" font-size="29.5">24</text>
<text transform="translate(34.2 981.5) rotate(-90)" font-size="29.5">CIC (x 10<tspan font-size="19.5" dy="-19.4">16</tspan><tspan dy="19.4"> molec. cm</tspan><tspan font-size="19.5" dy="-19.4">-2</tspan><tspan dy="19.4">)</tspan></text>
<text transform="translate(433.9 731.9) rotate(90)" font-size="31.5">Conc. (ppbv)</text>
<text x="115.3" y="923.3" font-size="36.3">(g)</text>
<text x="253.3" y="743.5" font-size="29.0">Ethanol</text>
<polyline points="600.7,811.6 611.2,825.2 621.8,782.1 632.3,855.9 642.9,836.1 653.4,825.6 664.0,843.8 674.5,861.3 685.1,843.8 695.6,808.9 706.2,765.0 716.7,744.3 727.2,753.2 737.8,769.7 748.3,715.4 758.9,746.6 769.4,784.4 780.0,791.4 790.5,814.7 801.1,838.4 811.6,821.7 822.2,816.5 832.7,820.5 843.3,833.8 853.8,812.3" fill="none" stroke="#000" stroke-width="3.2" stroke-linejoin="bevel"/>
<polygon points="600.7,826.3 611.2,826.3 621.8,820.0 632.3,823.5 642.9,824.5 653.4,826.8 664.0,819.8 674.5,816.3 685.1,811.2 695.6,810.0 706.2,793.0 716.7,743.1 727.2,738.7 737.8,758.8 748.3,718.0 758.9,738.5 769.4,766.7 780.0,786.7 790.5,807.7 801.1,824.0 811.6,820.5 822.2,831.0 832.7,820.5 843.3,824.0 853.8,825.2 853.8,881.6 843.3,879.9 832.7,874.1 822.2,878.8 811.6,876.0 801.1,881.6 790.5,876.4 780.0,860.1 769.4,845.4 758.9,808.2 748.3,815.8 737.8,836.8 727.2,850.8 716.7,857.1 706.2,877.6 695.6,881.8 685.1,882.3 674.5,882.3 664.0,882.3 653.4,882.7 642.9,883.4 632.3,883.4 621.8,877.6 611.2,879.9 600.7,881.8" fill="#5f5fff" fill-opacity="0.25"/>
<polyline points="600.7,853.8 611.2,853.1 621.8,848.5 632.3,853.1 642.9,853.8 653.4,855.5 664.0,850.1 674.5,849.2 685.1,846.1 695.6,845.4 706.2,835.2 716.7,799.5 727.2,794.9 737.8,796.5 748.3,765.0 758.9,772.0 769.4,805.8 780.0,823.3 790.5,843.1 801.1,852.4 811.6,847.8 822.2,854.8 832.7,846.6 843.3,851.3 853.8,853.8" fill="none" stroke="#0800ff" stroke-width="4.6" stroke-linejoin="bevel"/>
<path d="M596.2 707.7 V940.0 M595.2 708.7 H854.8 M595.2 939.0 H854.8 M857.3 712.2 V935.8" stroke="#000" stroke-width="2.1" fill="none"/>
<text x="581.1" y="944.4" text-anchor="end" font-size="29.5">0.0</text>
<text x="581.1" y="867.0" text-anchor="end" font-size="29.5">2.5</text>
<text x="581.1" y="789.5" text-anchor="end" font-size="29.5">5.0</text>
<text x="873.3" y="944.4" font-size="29.5">0</text>
<text x="873.3" y="852.1" font-size="29.5">10</text>
<text x="873.3" y="759.8" font-size="29.5">20</text>
<path d="M600.7 707.7V697.7M600.7 940.0V950.0M611.2 707.7V702.7M611.2 940.0V945.0M621.8 707.7V702.7M621.8 940.0V945.0M632.3 707.7V702.7M632.3 940.0V945.0M642.9 707.7V697.7M642.9 940.0V950.0M653.4 707.7V702.7M653.4 940.0V945.0M664.0 707.7V702.7M664.0 940.0V945.0M674.5 707.7V702.7M674.5 940.0V945.0M685.1 707.7V697.7M685.1 940.0V950.0M695.6 707.7V702.7M695.6 940.0V945.0M706.2 707.7V702.7M706.2 940.0V945.0M716.7 707.7V702.7M716.7 940.0V945.0M727.2 707.7V697.7M727.2 940.0V950.0M737.8 707.7V702.7M737.8 940.0V945.0M748.3 707.7V702.7M748.3 940.0V945.0M758.9 707.7V702.7M758.9 940.0V945.0M769.4 707.7V697.7M769.4 940.0V950.0M780.0 707.7V702.7M780.0 940.0V945.0M790.5 707.7V702.7M790.5 940.0V945.0M801.1 707.7V702.7M801.1 940.0V945.0M811.6 707.7V697.7M811.6 940.0V950.0M822.2 707.7V702.7M822.2 940.0V945.0M832.7 707.7V702.7M832.7 940.0V945.0M843.3 707.7V702.7M843.3 940.0V945.0M853.8 707.7V697.7M853.8 940.0V950.0M595.2 934.8H585.2M595.2 919.3H590.2M595.2 903.8H590.2M595.2 888.3H590.2M595.2 872.8H590.2M595.2 857.3H585.2M595.2 841.8H590.2M595.2 826.3H590.2M595.2 810.8H590.2M595.2 795.3H590.2M595.2 779.8H585.2M595.2 764.3H590.2M595.2 748.8H590.2M595.2 733.3H590.2M595.2 717.8H590.2M858.3 934.8H868.3M858.3 916.3H863.3M858.3 897.9H863.3M858.3 879.4H863.3M858.3 860.9H863.3M858.3 842.5H868.3M858.3 824.0H863.3M858.3 805.5H863.3M858.3 787.1H863.3M858.3 768.6H863.3M858.3 750.1H868.3M858.3 731.7H863.3M858.3 713.2H863.3" stroke="#000" stroke-width="2.1" fill="none"/>
<text x="600.7" y="981.8" text-anchor="middle" font-size="29.5">0</text>
<text x="642.9" y="981.8" text-anchor="middle" font-size="29.5">4</text>
<text x="685.1" y="981.8" text-anchor="middle" font-size="29.5">8</text>
<text x="727.2" y="981.8" text-anchor="middle" font-size="29.5">12</text>
<text x="769.4" y="981.8" text-anchor="middle" font-size="29.5">16</text>
<text x="811.6" y="981.8" text-anchor="middle" font-size="29.5">20</text>
<text x="853.8" y="981.8" text-anchor="middle" font-size="29.5">24</text>
<text transform="translate(523.4 981.5) rotate(-90)" font-size="29.5">CIC (x 10<tspan font-size="19.5" dy="-19.4">16</tspan><tspan dy="19.4"> molec. cm</tspan><tspan font-size="19.5" dy="-19.4">-2</tspan><tspan dy="19.4">)</tspan></text>
<text transform="translate(925.4 733.6) rotate(90)" font-size="31.5">Conc. (ppbv)</text>
<text x="605.4" y="753.3" font-size="36.3">(h)</text>
<text x="608.1" y="925.5" font-size="29.0">Formaldehyde</text>
<polyline points="1098.8,826.8 1109.3,831.5 1119.9,833.8 1130.4,865.5 1141.0,864.8 1151.5,859.0 1162.0,880.4 1172.6,883.4 1183.1,878.8 1193.6,845.0 1204.2,830.5 1214.7,824.5 1225.2,824.0 1235.8,833.3 1246.3,742.4 1256.9,797.2 1267.4,825.2 1277.9,854.8 1288.5,869.4 1299.0,845.0 1309.5,836.3 1320.1,831.0 1330.6,827.0 1341.2,834.5 1351.7,827.5" fill="none" stroke="#000" stroke-width="3.2" stroke-linejoin="bevel"/>
<polygon points="1098.8,870.1 1109.3,868.3 1119.9,868.3 1130.4,871.1 1141.0,871.1 1151.5,871.8 1162.0,869.4 1172.6,866.4 1183.1,864.8 1193.6,863.6 1204.2,857.1 1214.7,829.8 1225.2,812.3 1235.8,792.5 1246.3,734.3 1256.9,734.3 1267.4,804.2 1277.9,849.6 1288.5,866.4 1299.0,867.8 1309.5,862.4 1320.1,867.8 1330.6,863.1 1341.2,869.0 1351.7,870.1 1351.7,901.4 1341.2,901.4 1330.6,900.9 1320.1,901.4 1309.5,900.9 1299.0,900.2 1288.5,891.6 1277.9,882.3 1267.4,885.7 1256.9,896.9 1246.3,896.9 1235.8,896.2 1225.2,877.6 1214.7,883.0 1204.2,896.7 1193.6,900.9 1183.1,904.4 1172.6,906.3 1162.0,905.6 1151.5,906.3 1141.0,905.6 1130.4,904.9 1119.9,902.5 1109.3,901.6 1098.8,901.4" fill="#5f5fff" fill-opacity="0.25"/>
<polyline points="1098.8,885.7 1109.3,885.0 1119.9,885.0 1130.4,889.2 1141.0,889.2 1151.5,889.7 1162.0,888.1 1172.6,886.2 1183.1,883.9 1193.6,881.8 1204.2,877.6 1214.7,854.3 1225.2,844.5 1235.8,845.0 1246.3,814.2 1256.9,815.4 1267.4,841.5 1277.9,862.4 1288.5,878.1 1299.0,883.9 1309.5,881.6 1320.1,884.6 1330.6,881.6 1341.2,885.3 1351.7,885.7" fill="none" stroke="#0800ff" stroke-width="4.6" stroke-linejoin="bevel"/>
<path d="M1094.3 707.7 V940.0 M1093.3 708.7 H1352.7 M1093.3 939.0 H1352.7 M1355.2 712.2 V935.8" stroke="#000" stroke-width="2.1" fill="none"/>
<text x="1079.2" y="944.4" text-anchor="end" font-size="29.5">0.0</text>
<text x="1079.2" y="900.1" text-anchor="end" font-size="29.5">0.4</text>
<text x="1079.2" y="855.8" text-anchor="end" font-size="29.5">0.8</text>
<text x="1079.2" y="811.5" text-anchor="end" font-size="29.5">1.2</text>
<text x="1079.2" y="767.2" text-anchor="end" font-size="29.5">1.6</text>
<text x="1079.2" y="722.8" text-anchor="end" font-size="29.5">2.0</text>
<text x="1371.2" y="944.4" font-size="29.5">0.0</text>
<text x="1371.2" y="889.0" font-size="29.5">0.2</text>
<text x="1371.2" y="833.6" font-size="29.5">0.4</text>
<text x="1371.2" y="778.2" font-size="29.5">0.6</text>
<text x="1371.2" y="722.8" font-size="29.5">0.8</text>
<path d="M1098.8 707.7V697.7M1098.8 940.0V950.0M1109.3 707.7V702.7M1109.3 940.0V945.0M1119.9 707.7V702.7M1119.9 940.0V945.0M1130.4 707.7V702.7M1130.4 940.0V945.0M1141.0 707.7V697.7M1141.0 940.0V950.0M1151.5 707.7V702.7M1151.5 940.0V945.0M1162.0 707.7V702.7M1162.0 940.0V945.0M1172.6 707.7V702.7M1172.6 940.0V945.0M1183.1 707.7V697.7M1183.1 940.0V950.0M1193.6 707.7V702.7M1193.6 940.0V945.0M1204.2 707.7V702.7M1204.2 940.0V945.0M1214.7 707.7V702.7M1214.7 940.0V945.0M1225.2 707.7V697.7M1225.2 940.0V950.0M1235.8 707.7V702.7M1235.8 940.0V945.0M1246.3 707.7V702.7M1246.3 940.0V945.0M1256.9 707.7V702.7M1256.9 940.0V945.0M1267.4 707.7V697.7M1267.4 940.0V950.0M1277.9 707.7V702.7M1277.9 940.0V945.0M1288.5 707.7V702.7M1288.5 940.0V945.0M1299.0 707.7V702.7M1299.0 940.0V945.0M1309.5 707.7V697.7M1309.5 940.0V950.0M1320.1 707.7V702.7M1320.1 940.0V945.0M1330.6 707.7V702.7M1330.6 940.0V945.0M1341.2 707.7V702.7M1341.2 940.0V945.0M1351.7 707.7V697.7M1351.7 940.0V950.0M1093.3 934.8H1083.3M1093.3 912.6H1088.3M1093.3 890.5H1083.3M1093.3 868.3H1088.3M1093.3 846.2H1083.3M1093.3 824.0H1088.3M1093.3 801.8H1083.3M1093.3 779.7H1088.3M1093.3 757.5H1083.3M1093.3 735.4H1088.3M1093.3 713.2H1083.3M1356.2 934.8H1366.2M1356.2 907.1H1361.2M1356.2 879.4H1366.2M1356.2 851.7H1361.2M1356.2 824.0H1366.2M1356.2 796.3H1361.2M1356.2 768.6H1366.2M1356.2 740.9H1361.2M1356.2 713.2H1366.2" stroke="#000" stroke-width="2.1" fill="none"/>
<text x="1098.8" y="981.8" text-anchor="middle" font-size="29.5">0</text>
<text x="1141.0" y="981.8" text-anchor="middle" font-size="29.5">4</text>
<text x="1183.1" y="981.8" text-anchor="middle" font-size="29.5">8</text>
<text x="1225.2" y="981.8" text-anchor="middle" font-size="29.5">12</text>
<text x="1267.4" y="981.8" text-anchor="middle" font-size="29.5">16</text>
<text x="1309.5" y="981.8" text-anchor="middle" font-size="29.5">20</text>
<text x="1351.7" y="981.8" text-anchor="middle" font-size="29.5">24</text>
<text transform="translate(1021.5 981.5) rotate(-90)" font-size="29.5">CIC (x 10<tspan font-size="19.5" dy="-19.4">15</tspan><tspan dy="19.4"> molec. cm</tspan><tspan font-size="19.5" dy="-19.4">-2</tspan><tspan dy="19.4">)</tspan></text>
<text transform="translate(1423.3 733.6) rotate(90)" font-size="31.5">Conc. (ppbv)</text>
<text x="1099.2" y="783.3" font-size="36.3">(i)</text>
<text x="1103.1" y="734.4" font-size="29.0">MVK+MACR</text>
<text x="238.1" y="1022.5" text-anchor="middle" font-size="29">Hour of day</text>
<text x="727.2" y="1022.5" text-anchor="middle" font-size="29">Hour of day</text>
<text x="1225.2" y="1022.5" text-anchor="middle" font-size="29">Hour of day</text>
<rect x="502.5" y="1.5" width="379.5" height="44.9" fill="none" stroke="#000" stroke-width="2.1"/>
<line x1="512" y1="25.4" x2="567" y2="25.4" stroke="#0800ff" stroke-width="4.6"/>
<text x="578.3" y="34.1" font-size="30">CIC</text>
<line x1="673" y1="25.4" x2="727" y2="25.4" stroke="#000" stroke-width="3"/>
<text x="738.8" y="34.1" font-size="29">Conc@5m</text>
</svg></body></html>
